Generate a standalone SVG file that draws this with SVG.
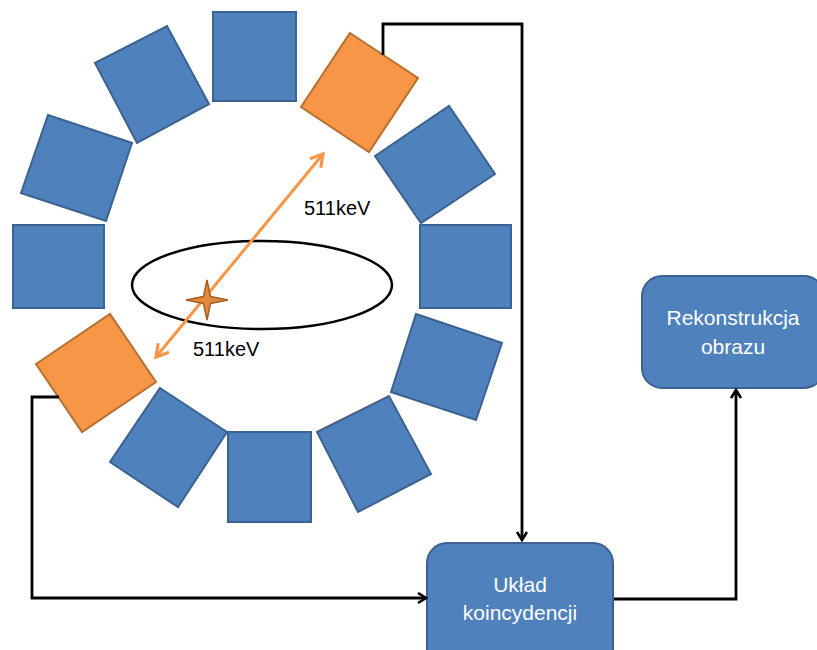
<svg xmlns="http://www.w3.org/2000/svg" width="817" height="650" viewBox="0 0 817 650">
<style>
.det{fill:#4F81BD;stroke:#3B6291;stroke-width:2;stroke-linejoin:miter}
.hit{fill:#F79646;stroke:#B8702F;stroke-width:2}
.box{fill:#4F81BD;stroke:#3B6291;stroke-width:2}
.wire{fill:none;stroke:#000;stroke-width:2.8}
.ray{fill:none;stroke:#F79646;stroke-width:3}
.lbl{font-family:"Liberation Sans",Arial,sans-serif;font-size:20px;fill:#000}
.btxt{font-family:"Liberation Sans",Arial,sans-serif;font-size:21px;fill:#fff;text-anchor:middle}
</style>
<defs>
<marker id="ah" markerUnits="userSpaceOnUse" markerWidth="14" markerHeight="14" refX="10" refY="6" orient="auto">
<path d="M2,1 L10,6 L2,11" fill="none" stroke="#000" stroke-width="2.6"/>
</marker>
<marker id="oh" markerUnits="userSpaceOnUse" markerWidth="20" markerHeight="20" refX="14" refY="9" orient="auto-start-reverse">
<path d="M2,2 L14,9 L2,16" fill="none" stroke="#F79646" stroke-width="3.2"/>
</marker>
</defs>
<g id="ring">
<g id="det-top"><rect class="det" x="213" y="12" width="83" height="89"/></g>
<g id="det-tr-hit"><polygon class="hit" points="350,33 418,78 369,152 301,107"/></g>
<g id="det-r1"><polygon class="det" points="375,156 449,106 495,174 421,223"/></g>
<g id="det-r2"><rect class="det" x="420" y="225" width="91" height="83"/></g>
<g id="det-r3"><polygon class="det" points="416,314 502,343 476,420 391,392"/></g>
<g id="det-r4"><polygon class="det" points="317,432 389,396 431,474 358,512"/></g>
<g id="det-bottom"><rect class="det" x="228" y="432" width="83" height="90"/></g>
<g id="det-l4"><polygon class="det" points="160,388 227,432 178,507 110,462"/></g>
<g id="det-bl-hit"><polygon class="hit" points="36,364 110,314 156,382 82,432"/></g>
<g id="det-l2"><rect class="det" x="13" y="225" width="91" height="83"/></g>
<g id="det-l1"><polygon class="det" points="48,115 132,143 106,221 21,193"/></g>
<g id="det-l0"><polygon class="det" points="95,63 167,26 209,104 137,143"/></g>
</g>
<g id="patient"><ellipse cx="262" cy="285" rx="130" ry="44" fill="none" stroke="#000" stroke-width="2.5"/></g>
<g id="rays">
<line class="ray" x1="156" y1="357" x2="323" y2="154" marker-start="url(#oh)" marker-end="url(#oh)"/>
</g>
<g id="source"><path d="M207,280 L210.5,296.5 L228,300 L210.5,303.5 L207,320 L203.5,303.5 L186,300 L203.5,296.5 Z" fill="#E08A3E" stroke="#A85E22" stroke-width="1.5"/></g>
<g id="labels">
<text class="lbl" x="304" y="215">511keV</text>
<text class="lbl" x="193" y="356">511keV</text>
</g>
<g id="uklad"><rect class="box" x="427" y="543" width="186" height="130" rx="20"/>
<text class="btxt" x="520" y="592">Układ</text>
<text class="btxt" x="520" y="620">koincydencji</text></g>
<g id="rekonstrukcja"><rect class="box" x="642" y="276" width="182" height="112" rx="20"/>
<text class="btxt" x="733" y="325">Rekonstrukcja</text>
<text class="btxt" x="733" y="354">obrazu</text></g>
<g id="connectors">
<polyline class="wire" points="383,55 383,24 522,24 522,540" marker-end="url(#ah)"/>
<polyline class="wire" points="59,397 32,397 32,598 426,598" marker-end="url(#ah)"/>
<polyline class="wire" points="614,599 736,599 736,390" marker-end="url(#ah)"/>
</g>
</svg>
